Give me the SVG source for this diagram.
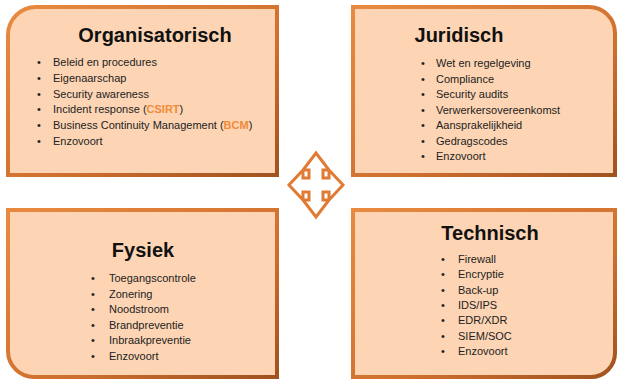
<svg xmlns="http://www.w3.org/2000/svg" width="618" height="381" viewBox="0 0 618 381">
  <defs>
    <linearGradient id="edge" x1="0" y1="0" x2="1" y2="1">
      <stop offset="0" stop-color="#e98a40"/>
      <stop offset="0.6" stop-color="#d0702e"/>
      <stop offset="1" stop-color="#a0521f"/>
    </linearGradient>
  </defs>
  <style>
    .box { fill: #fdd5b4; stroke: url(#edge); stroke-width: 4; stroke-linejoin: miter; }
    .title { font-family: "Liberation Sans", Arial, sans-serif; font-size: 20px; font-weight: bold; fill: #111; text-anchor: middle; }
    .item { font-family: "Liberation Sans", Arial, sans-serif; font-size: 11px; fill: #222; }
    .hl { fill: #ef8b3a; font-weight: bold; }
    .icon { fill: #ffffff; stroke: #e07a35; stroke-width: 3; stroke-linejoin: miter; }
  </style>
  <rect width="618" height="381" fill="#ffffff"/>

  <g id="organisatorisch">
    <path class="box" d="M8,35 A28,28 0 0 1 36,7 L277,7 L277,175 L8,175 Z"/>
    <text class="title" x="155" y="42">Organisatorisch</text>
    <g class="item">
      <text x="37" y="66">•</text><text x="53" y="66">Beleid en procedures</text>
      <text x="37" y="82">•</text><text x="53" y="82">Eigenaarschap</text>
      <text x="37" y="97.5">•</text><text x="53" y="97.5">Security awareness</text>
      <text x="37" y="113">•</text><text x="53" y="113">Incident response (<tspan class="hl">CSIRT</tspan>)</text>
      <text x="37" y="129">•</text><text x="53" y="129">Business Continuity Management (<tspan class="hl">BCM</tspan>)</text>
      <text x="37" y="144.5">•</text><text x="53" y="144.5">Enzovoort</text>
    </g>
  </g>

  <g id="juridisch">
    <path class="box" d="M353,7 L589,7 A26,26 0 0 1 615,33 L615,175 L353,175 Z"/>
    <text class="title" x="459" y="42">Juridisch</text>
    <g class="item">
      <text x="421" y="67">•</text><text x="436" y="67">Wet en regelgeving</text>
      <text x="421" y="82.5">•</text><text x="436" y="82.5">Compliance</text>
      <text x="421" y="98">•</text><text x="436" y="98">Security audits</text>
      <text x="421" y="113.5">•</text><text x="436" y="113.5">Verwerkersovereenkomst</text>
      <text x="421" y="129">•</text><text x="436" y="129">Aansprakelijkheid</text>
      <text x="421" y="144.5">•</text><text x="436" y="144.5">Gedragscodes</text>
      <text x="421" y="160">•</text><text x="436" y="160">Enzovoort</text>
    </g>
  </g>

  <g id="fysiek">
    <path class="box" d="M8,210 L277,210 L277,377 L34,377 A26,26 0 0 1 8,351 Z"/>
    <text class="title" x="143" y="257">Fysiek</text>
    <g class="item">
      <text x="91" y="282">•</text><text x="109" y="282">Toegangscontrole</text>
      <text x="91" y="297.5">•</text><text x="109" y="297.5">Zonering</text>
      <text x="91" y="313">•</text><text x="109" y="313">Noodstroom</text>
      <text x="91" y="328.5">•</text><text x="109" y="328.5">Brandpreventie</text>
      <text x="91" y="344">•</text><text x="109" y="344">Inbraakpreventie</text>
      <text x="91" y="359.5">•</text><text x="109" y="359.5">Enzovoort</text>
    </g>
  </g>

  <g id="technisch">
    <path class="box" d="M353,210 L615,210 L615,353 A24,24 0 0 1 591,377 L353,377 Z"/>
    <text class="title" x="490" y="240">Technisch</text>
    <g class="item">
      <text x="441" y="263">•</text><text x="458" y="263">Firewall</text>
      <text x="441" y="278.3">•</text><text x="458" y="278.3">Encryptie</text>
      <text x="441" y="293.6">•</text><text x="458" y="293.6">Back-up</text>
      <text x="441" y="308.9">•</text><text x="458" y="308.9">IDS/IPS</text>
      <text x="441" y="324.2">•</text><text x="458" y="324.2">EDR/XDR</text>
      <text x="441" y="339.5">•</text><text x="458" y="339.5">SIEM/SOC</text>
      <text x="441" y="354.8">•</text><text x="458" y="354.8">Enzovoort</text>
    </g>
  </g>

  <g id="connectors">
    <g id="center-arrows">
      <path class="icon" d="M316,153 L329,170 L323,170 L323,178 L329,178 L329,170 L343,185 L329,200 L329,192 L323,192 L323,200 L329,200 L316,217 L303,200 L309,200 L309,192 L303,192 L303,200 L289,185 L303,170 L303,178 L309,178 L309,170 L303,170 Z"/>
    </g>
  </g>
</svg>
